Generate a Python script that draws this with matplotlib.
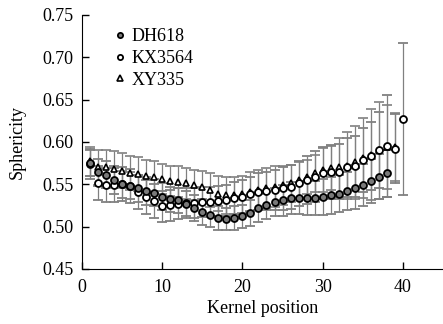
import matplotlib
matplotlib.use("Agg")
import matplotlib.pyplot as plt
import numpy as np

plt.rcParams['font.family'] = ['Liberation Serif', 'DejaVu Serif']

# kernel positions
pos_dh = np.arange(1, 39)
pos_kx = np.arange(1, 41)
pos_xy = np.arange(1, 40)

dh618 = [0.575, 0.564, 0.561, 0.555, 0.550, 0.548, 0.545, 0.542, 0.540, 0.535,
         0.532, 0.531, 0.527, 0.522, 0.517, 0.514, 0.510, 0.509, 0.510, 0.512,
         0.516, 0.522, 0.525, 0.529, 0.531, 0.534, 0.534, 0.534, 0.534, 0.535,
         0.537, 0.539, 0.542, 0.545, 0.549, 0.554, 0.559, 0.563]
dh618_err = [0.015, 0.016, 0.016, 0.016, 0.016, 0.016, 0.016, 0.016, 0.016, 0.016,
             0.015, 0.015, 0.015, 0.015, 0.015, 0.014, 0.014, 0.013, 0.014, 0.014,
             0.015, 0.016, 0.016, 0.017, 0.018, 0.019, 0.019, 0.020, 0.020, 0.021,
             0.022, 0.022, 0.023, 0.024, 0.025, 0.026, 0.027, 0.028]

kx3564 = [0.574, 0.551, 0.549, 0.549, 0.550, 0.548, 0.541, 0.535, 0.530, 0.524,
          0.525, 0.527, 0.528, 0.528, 0.529, 0.529, 0.530, 0.531, 0.534, 0.535,
          0.538, 0.541, 0.542, 0.543, 0.545, 0.547, 0.551, 0.555, 0.559, 0.563,
          0.564, 0.565, 0.570, 0.571, 0.579, 0.583, 0.590, 0.595, 0.592, 0.627]
kx3564_err = [0.018, 0.020, 0.020, 0.020, 0.020, 0.020, 0.020, 0.020, 0.020, 0.018,
              0.018, 0.018, 0.018, 0.018, 0.018, 0.018, 0.018, 0.018, 0.019, 0.020,
              0.021, 0.022, 0.023, 0.024, 0.025, 0.026, 0.027, 0.028, 0.030, 0.031,
              0.032, 0.033, 0.035, 0.036, 0.038, 0.040, 0.045, 0.060, 0.041, 0.090]

xy335 = [0.577, 0.570, 0.570, 0.568, 0.566, 0.563, 0.562, 0.560, 0.559, 0.556,
         0.554, 0.553, 0.551, 0.549, 0.547, 0.543, 0.539, 0.537, 0.537, 0.538,
         0.541, 0.543, 0.545, 0.547, 0.549, 0.551, 0.555, 0.559, 0.563, 0.567,
         0.569, 0.570, 0.572, 0.576, 0.581, 0.585, 0.590, 0.594, 0.594]
xy335_err = [0.017, 0.021, 0.021, 0.021, 0.021, 0.020, 0.020, 0.019, 0.019, 0.018,
             0.018, 0.018, 0.018, 0.018, 0.019, 0.020, 0.021, 0.022, 0.022, 0.022,
             0.023, 0.024, 0.024, 0.024, 0.023, 0.022, 0.021, 0.020, 0.022, 0.026,
             0.026, 0.035, 0.040, 0.043, 0.047, 0.054, 0.057, 0.050, 0.040]

fig = plt.figure(figsize=(4.43, 3.24), dpi=100)
ax = fig.add_axes([0.185, 0.170, 0.815, 0.784])

ecol = '#808080'
ax.errorbar(pos_xy, xy335, yerr=xy335_err, fmt='^', ms=5, mfc='white', mec='black',
            mew=1.2, ecolor=ecol, elinewidth=0.9, capsize=3.5, capthick=0.9, label='XY335')
ax.errorbar(pos_kx, kx3564, yerr=kx3564_err, fmt='o', ms=5, mfc='white', mec='black',
            mew=1.3, ecolor=ecol, elinewidth=0.9, capsize=3.5, capthick=0.9, label='KX3564')
ax.errorbar(pos_dh, dh618, yerr=dh618_err, fmt='o', ms=5, mfc='#7a7a7a', mec='black',
            mew=1.3, ecolor=ecol, elinewidth=0.9, capsize=3.5, capthick=0.9, label='DH618')

ax.set_xlim(0, 45)
ax.set_ylim(0.45, 0.75)
ax.set_xticks([0, 10, 20, 30, 40])
ax.set_yticks(np.arange(0.45, 0.751, 0.05))
ax.set_yticklabels(['%.2f' % v for v in np.arange(0.45, 0.751, 0.05)])
ax.tick_params(direction='in', length=5, labelsize=13, width=1)
ax.tick_params(axis='x', pad=7)
ax.tick_params(axis='y', pad=6)
ax.spines['top'].set_visible(False)
ax.spines['right'].set_visible(False)
ax.set_xlabel('Kernel position', fontsize=13, labelpad=3)
ax.set_ylabel('Sphericity', fontsize=13, labelpad=12)

h, l = ax.get_legend_handles_labels()
order = [2, 1, 0]
leg = ax.legend([h[i][0] for i in order], [l[i] for i in order], loc='upper left',
                frameon=False, fontsize=13, handlelength=0.6, handletextpad=0.35,
                labelspacing=0.25, borderaxespad=0.0, bbox_to_anchor=(0.07, 0.975),
                markerscale=0.75)

fig.savefig('out.png', dpi=100)
